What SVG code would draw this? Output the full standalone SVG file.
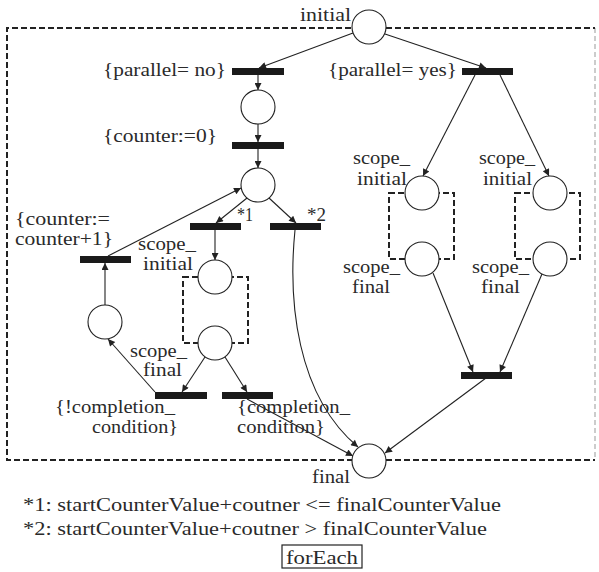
<svg xmlns="http://www.w3.org/2000/svg" width="599" height="572" viewBox="0 0 599 572">
<style>
text{font-family:'Liberation Serif','Times New Roman',serif;font-size:18.5px;fill:#2a2a2a}
.place{fill:#fff;stroke:#222;stroke-width:1.1}
.bar{fill:#1a1a1a}
.arc{fill:none;stroke:#222;stroke-width:1.1;marker-end:url(#ah)}
.scope{fill:none;stroke:#222;stroke-width:2;stroke-dasharray:6 3}
</style>
<defs>
<marker id="ah" viewBox="0 0 10 10" refX="10" refY="5" markerWidth="10" markerHeight="7" markerUnits="userSpaceOnUse" orient="auto">
<path d="M0,0 L10,5 L0,10 z" fill="#222"/>
</marker>
</defs>
<g id="frame">
<path d="M386,460 H595" fill="none" stroke="#222" stroke-width="2" stroke-dasharray="6 3"/>
<path d="M595,28 V460" fill="none" stroke="#999" stroke-width="1" stroke-dasharray="5 3"/>
<path d="M351,28 H7 V460 H352 M386,28 H595" fill="none" stroke="#222" stroke-width="2" stroke-dasharray="6 3"/>
</g>
<g id="scope-boxes">
<rect class="scope" x="183" y="277" width="65" height="66"/>
<rect class="scope" x="389" y="193" width="65" height="66"/>
<rect class="scope" x="515" y="193" width="65" height="66"/>
</g>
<g id="connectors">
<path class="arc" d="M353,33 L259,68"/>
<path class="arc" d="M385,34 L486,68"/>
<path class="arc" d="M258,75 V90"/>
<path class="arc" d="M258,124 V142"/>
<path class="arc" d="M258,149 V168"/>
<path class="arc" d="M247,198 L216,223"/>
<path class="arc" d="M269,198 L296,223"/>
<path class="arc" d="M215,230 V260"/>
<path class="arc" d="M205,357 L182,392"/>
<path class="arc" d="M225,357 L247,392"/>
<path class="arc" d="M155,392 L108,339"/>
<path class="arc" d="M105,305 V263"/>
<path class="arc" d="M108,256 L241,188"/>
<path class="arc" d="M295,230 C288,300 296,395 358,447"/>
<path class="arc" d="M247,399 L353,456"/>
<path class="arc" d="M475,75 L423,176"/>
<path class="arc" d="M500,75 L549,176"/>
<path class="arc" d="M433,273 L473,372"/>
<path class="arc" d="M542,274 L500,372"/>
<path class="arc" d="M486,378 L385,453"/>
</g>
<g id="initial"><circle class="place" cx="369" cy="27" r="17"/><text x="300" y="21" textLength="51" lengthAdjust="spacingAndGlyphs">initial</text></g>
<g id="t-parallel-no"><rect class="bar" x="232" y="68" width="52" height="7"/><text x="103" y="76" textLength="123" lengthAdjust="spacingAndGlyphs">{parallel= no}</text></g>
<g id="p-a"><circle class="place" cx="258" cy="107" r="17"/></g>
<g id="t-counter0"><rect class="bar" x="232" y="142" width="52" height="7"/><text x="103" y="142" textLength="114" lengthAdjust="spacingAndGlyphs">{counter:=0}</text></g>
<g id="p-b"><circle class="place" cx="258" cy="185" r="17"/></g>
<g id="t-1"><rect class="bar" x="190" y="223" width="51" height="7"/><text x="237" y="221" textLength="16" lengthAdjust="spacingAndGlyphs">*1</text></g>
<g id="t-2"><rect class="bar" x="270" y="223" width="51" height="7"/><text x="307" y="221" textLength="19" lengthAdjust="spacingAndGlyphs">*2</text></g>
<g id="t-counter-inc"><rect class="bar" x="80" y="256" width="51" height="7"/><text x="15" y="225" textLength="95" lengthAdjust="spacingAndGlyphs">{counter:=</text><text x="15" y="245" textLength="98" lengthAdjust="spacingAndGlyphs">counter+1}</text></g>
<g id="p-scope-initial-l"><circle class="place" cx="215" cy="277" r="17"/><text x="138" y="250" textLength="58" lengthAdjust="spacingAndGlyphs">scope_</text><text x="143" y="270" textLength="50" lengthAdjust="spacingAndGlyphs">initial</text></g>
<g id="p-scope-final-l"><circle class="place" cx="215" cy="343" r="17"/><text x="130" y="357" textLength="57" lengthAdjust="spacingAndGlyphs">scope_</text><text x="143" y="376" textLength="39" lengthAdjust="spacingAndGlyphs">final</text></g>
<g id="p-loop"><circle class="place" cx="105" cy="322" r="17"/></g>
<g id="t-not-completion"><rect class="bar" x="155" y="392" width="52" height="7"/><text x="55" y="413" textLength="120" lengthAdjust="spacingAndGlyphs">{!completion_</text><text x="92" y="433" textLength="86" lengthAdjust="spacingAndGlyphs">condition}</text></g>
<g id="t-completion"><rect class="bar" x="222" y="392" width="51" height="7"/><text x="237" y="413" textLength="113" lengthAdjust="spacingAndGlyphs">{completion_</text><text x="237" y="433" textLength="88" lengthAdjust="spacingAndGlyphs">condition}</text></g>
<g id="t-parallel-yes"><rect class="bar" x="462" y="68" width="51" height="7"/><text x="328" y="76" textLength="129" lengthAdjust="spacingAndGlyphs">{parallel= yes}</text></g>
<g id="p-scope-initial-1"><circle class="place" cx="422" cy="193" r="17"/><text x="353" y="164" textLength="57" lengthAdjust="spacingAndGlyphs">scope_</text><text x="357" y="185" textLength="50" lengthAdjust="spacingAndGlyphs">initial</text></g>
<g id="p-scope-initial-2"><circle class="place" cx="550" cy="193" r="17"/><text x="479" y="164" textLength="56" lengthAdjust="spacingAndGlyphs">scope_</text><text x="483" y="185" textLength="49" lengthAdjust="spacingAndGlyphs">initial</text></g>
<g id="p-scope-final-1"><circle class="place" cx="422" cy="259" r="17"/><text x="343" y="273" textLength="57" lengthAdjust="spacingAndGlyphs">scope_</text><text x="352" y="293" textLength="38" lengthAdjust="spacingAndGlyphs">final</text></g>
<g id="p-scope-final-2"><circle class="place" cx="550" cy="259" r="17"/><text x="472" y="273" textLength="57" lengthAdjust="spacingAndGlyphs">scope_</text><text x="481" y="293" textLength="39" lengthAdjust="spacingAndGlyphs">final</text></g>
<g id="t-join"><rect class="bar" x="461" y="372" width="51" height="7"/></g>
<g id="final"><circle class="place" cx="369" cy="461" r="17"/><text x="312" y="483" textLength="38" lengthAdjust="spacingAndGlyphs">final</text></g>
<g id="notes">
<text x="23" y="511" textLength="478" lengthAdjust="spacingAndGlyphs">*1: startCounterValue+coutner &lt;= finalCounterValue</text>
<text x="23" y="535" textLength="464" lengthAdjust="spacingAndGlyphs">*2: startCounterValue+coutner &gt;  finalCounterValue</text>
<rect x="282" y="545" width="80" height="23" fill="none" stroke="#222" stroke-width="1.2"/>
<text x="286" y="564" textLength="72" lengthAdjust="spacingAndGlyphs">forEach</text>
</g>
</svg>
